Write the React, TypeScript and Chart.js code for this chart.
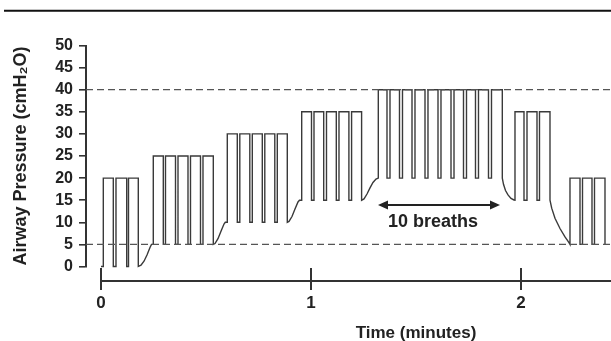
import React, { useEffect, useRef } from 'react';
import { Chart, registerables } from 'chart.js';

Chart.register(...registerables);

// ---------- data (times in minutes, pressures in cmH2O) ----------
const stepPeakPressure = [20, 25, 30, 35, 40, 35, 20];
const stepPeepPressure = [0, 5, 10, 15, 20, 15, 5];

// [inspiration onset, inspiration end] for every breath of each step
const breathsStep1 = [[0.011, 0.0586], [0.0714, 0.1224], [0.131, 0.1776]];
const breathsStep2 = [[0.249, 0.2967], [0.3071, 0.3548], [0.3667, 0.4143], [0.4262, 0.4738], [0.4857, 0.5348]];
const breathsStep3 = [[0.6014, 0.649], [0.661, 0.7086], [0.7205, 0.7681], [0.78, 0.8276], [0.8395, 0.8871]];
const breathsStep4 = [[0.9557, 1.0024], [1.0143, 1.0605], [1.0738, 1.1205], [1.1333, 1.1805], [1.1933, 1.241]];
const breathsStep5 = [
  [1.3205, 1.3619], [1.3762, 1.4214], [1.4357, 1.481], [1.4952, 1.5429], [1.5571, 1.6048],
  [1.619, 1.6667], [1.681, 1.7262], [1.7405, 1.7833], [1.7976, 1.8452], [1.8595, 1.911],
];
const breathsStep6 = [[1.9714, 2.0143], [2.0286, 2.0762], [2.0881, 2.1381]];
const breathsStep7 = [[2.2333, 2.281], [2.2929, 2.3381], [2.35, 2.4]];

// baseline transitions between steps [time, pressure]
const rampAfterStep1 = [[0.1905, 0.3], [0.2048, 1.2], [0.219, 2.6], [0.2333, 4.3], [0.2405, 5]];
const rampAfterStep2 = [[0.5429, 5.2], [0.5571, 6.3], [0.5714, 8], [0.5857, 9.6], [0.5919, 10]];
const rampAfterStep3 = [[0.8952, 10.2], [0.9095, 11.3], [0.9238, 13], [0.9381, 14.6], [0.9452, 15]];
const rampAfterStep4 = [[1.2524, 15.3], [1.2667, 16.4], [1.281, 17.8], [1.2952, 19], [1.3095, 19.8]];
const rampAfterStep5 = [[1.9167, 18.6], [1.9262, 17.2], [1.9381, 16.2], [1.9524, 15.4], [1.9667, 15.05]];
const rampAfterStep6 = [[2.1462, 13.2], [2.1619, 10.9], [2.1857, 8.6], [2.2095, 6.7], [2.2286, 5.4]];
const rampAfterStep7: number[][] = [];

const traceStart = [0, 0];

const yTickValues = [0, 5, 10, 15, 20, 25, 30, 35, 40, 45, 50];
const xTickValues = [0, 1, 2];
const referenceLevels = [40, 5];

const xRange = [-0.0714, 2.4286];
const yRange = [0, 50];

const arrowSpan = [1.319, 1.9];
const arrowLevel = 13.9;
const arrowLabel = '10 breaths';
const arrowLabelPos = [1.581, 10.1];

const xTitle = 'Time (minutes)';
const xTitleCenter = 1.5;
const yTitle = 'Airway Pressure (cmH₂O)';

// ---------- build the trace ----------
const allBreaths = [breathsStep1, breathsStep2, breathsStep3, breathsStep4, breathsStep5, breathsStep6, breathsStep7];
const allRamps = [rampAfterStep1, rampAfterStep2, rampAfterStep3, rampAfterStep4, rampAfterStep5, rampAfterStep6, rampAfterStep7];

function buildTrace() {
  const pts: { x: number; y: number }[] = [{ x: traceStart[0], y: traceStart[1] }];
  allBreaths.forEach((breaths, i) => {
    const peak = stepPeakPressure[i];
    const base = stepPeepPressure[i];
    breaths.forEach(([on, off]) => {
      pts.push({ x: on, y: base }, { x: on, y: peak }, { x: off, y: peak }, { x: off, y: base });
    });
    allRamps[i].forEach(([t, p]) => pts.push({ x: t, y: p }));
  });
  return pts;
}

const FONT = '"Liberation Sans", Arial, sans-serif';
const INK = '#222';

const decorPlugin = {
  id: 'decor',
  afterDraw(chart: any) {
    const { ctx, chartArea } = chart;
    const x = chart.scales.x;
    const y = chart.scales.y;
    ctx.save();
    // top rule of the figure
    ctx.strokeStyle = '#111';
    ctx.lineWidth = 2;
    ctx.beginPath();
    ctx.moveTo(4, 10.7);
    ctx.lineTo(chart.width, 10.7);
    ctx.stroke();

    // offset x axis
    const axisY = chartArea.bottom + 14.5;
    ctx.strokeStyle = '#333';
    ctx.lineWidth = 2;
    ctx.beginPath();
    ctx.moveTo(x.getPixelForValue(0), axisY);
    ctx.lineTo(chartArea.right, axisY);
    ctx.stroke();
    xTickValues.forEach((v) => {
      const px = Math.round(x.getPixelForValue(v));
      ctx.beginPath();
      ctx.moveTo(px, axisY - 13);
      ctx.lineTo(px, axisY + 9);
      ctx.stroke();
    });

    ctx.fillStyle = INK;
    ctx.font = `bold 17px ${FONT}`;
    ctx.textAlign = 'center';
    ctx.textBaseline = 'alphabetic';
    ctx.fillText(xTitle, x.getPixelForValue(xTitleCenter), 338);

    // double headed arrow
    const ax1 = x.getPixelForValue(arrowSpan[0]);
    const ax2 = x.getPixelForValue(arrowSpan[1]);
    const ay = y.getPixelForValue(arrowLevel);
    ctx.strokeStyle = INK;
    ctx.lineWidth = 2;
    ctx.beginPath();
    ctx.moveTo(ax1 + 6, ay);
    ctx.lineTo(ax2 - 6, ay);
    ctx.stroke();
    ctx.beginPath();
    ctx.moveTo(ax1, ay);
    ctx.lineTo(ax1 + 10, ay - 4.5);
    ctx.lineTo(ax1 + 10, ay + 4.5);
    ctx.closePath();
    ctx.fill();
    ctx.beginPath();
    ctx.moveTo(ax2, ay);
    ctx.lineTo(ax2 - 10, ay - 4.5);
    ctx.lineTo(ax2 - 10, ay + 4.5);
    ctx.closePath();
    ctx.fill();

    ctx.font = `bold 18px ${FONT}`;
    ctx.textBaseline = 'middle';
    ctx.fillText(arrowLabel, x.getPixelForValue(arrowLabelPos[0]), y.getPixelForValue(arrowLabelPos[1]));
    ctx.restore();
  },
};

export default function App() {
  const ref = useRef<HTMLCanvasElement | null>(null);
  useEffect(() => {
    if (!ref.current) return;
    const chart = new Chart(ref.current, {
      type: 'line',
      data: {
        datasets: [
          ...referenceLevels.map((lvl) => ({
            data: [{ x: xRange[0], y: lvl }, { x: xRange[1], y: lvl }],
            borderColor: '#555',
            borderWidth: 1.3,
            borderDash: [7, 4],
            pointRadius: 0,
            fill: false,
          })),
          {
            data: buildTrace(),
            borderColor: '#3a3a3a',
            borderWidth: 1.4,
            pointRadius: 0,
            tension: 0,
            fill: false,
            clip: 6,
          },
        ],
      },
      options: {
        animation: false,
        responsive: true,
        maintainAspectRatio: false,
        layout: { padding: { top: 45.5, right: 0, left: 0, bottom: 0 } },
        plugins: { legend: { display: false }, tooltip: { enabled: false } },
        scales: {
          x: {
            type: 'linear',
            min: xRange[0],
            max: xRange[1],
            afterFit: (s: any) => { s.height = 74.5; },
            afterBuildTicks: (s: any) => { s.ticks = xTickValues.map((v) => ({ value: v })); },
            grid: { display: false, drawTicks: false },
            border: { display: false },
            ticks: {
              padding: 27,
              autoSkip: false,
              color: INK,
              font: { family: FONT, size: 17, weight: 'bold' },
              callback: (v: any) => String(v),
              maxRotation: 0,
            },
          },
          y: {
            type: 'linear',
            min: yRange[0],
            max: yRange[1],
            afterFit: (s: any) => { s.width = 86; },
            afterBuildTicks: (s: any) => { s.ticks = yTickValues.map((v) => ({ value: v })); },
            grid: { display: true, drawOnChartArea: false, drawTicks: true, tickLength: 7, color: '#333', lineWidth: 1.6 },
            border: { display: true, color: '#333', width: 2 },
            ticks: {
              padding: 6,
              autoSkip: false,
              color: INK,
              font: { family: FONT, size: 16, weight: 'bold' },
              callback: (v: any) => String(v),
            },
            title: {
              display: true,
              text: yTitle,
              color: INK,
              font: { family: FONT, size: 18, weight: 'bold' },
              padding: { top: 10, bottom: 0 },
            },
          },
        },
      },
      plugins: [decorPlugin],
    });
    return () => chart.destroy();
  }, []);
  return (
    <div style={{ position: 'fixed', left: 0, top: 0, width: 611, height: 341, background: '#fff' }}>
      <canvas ref={ref} />
    </div>
  );
}
